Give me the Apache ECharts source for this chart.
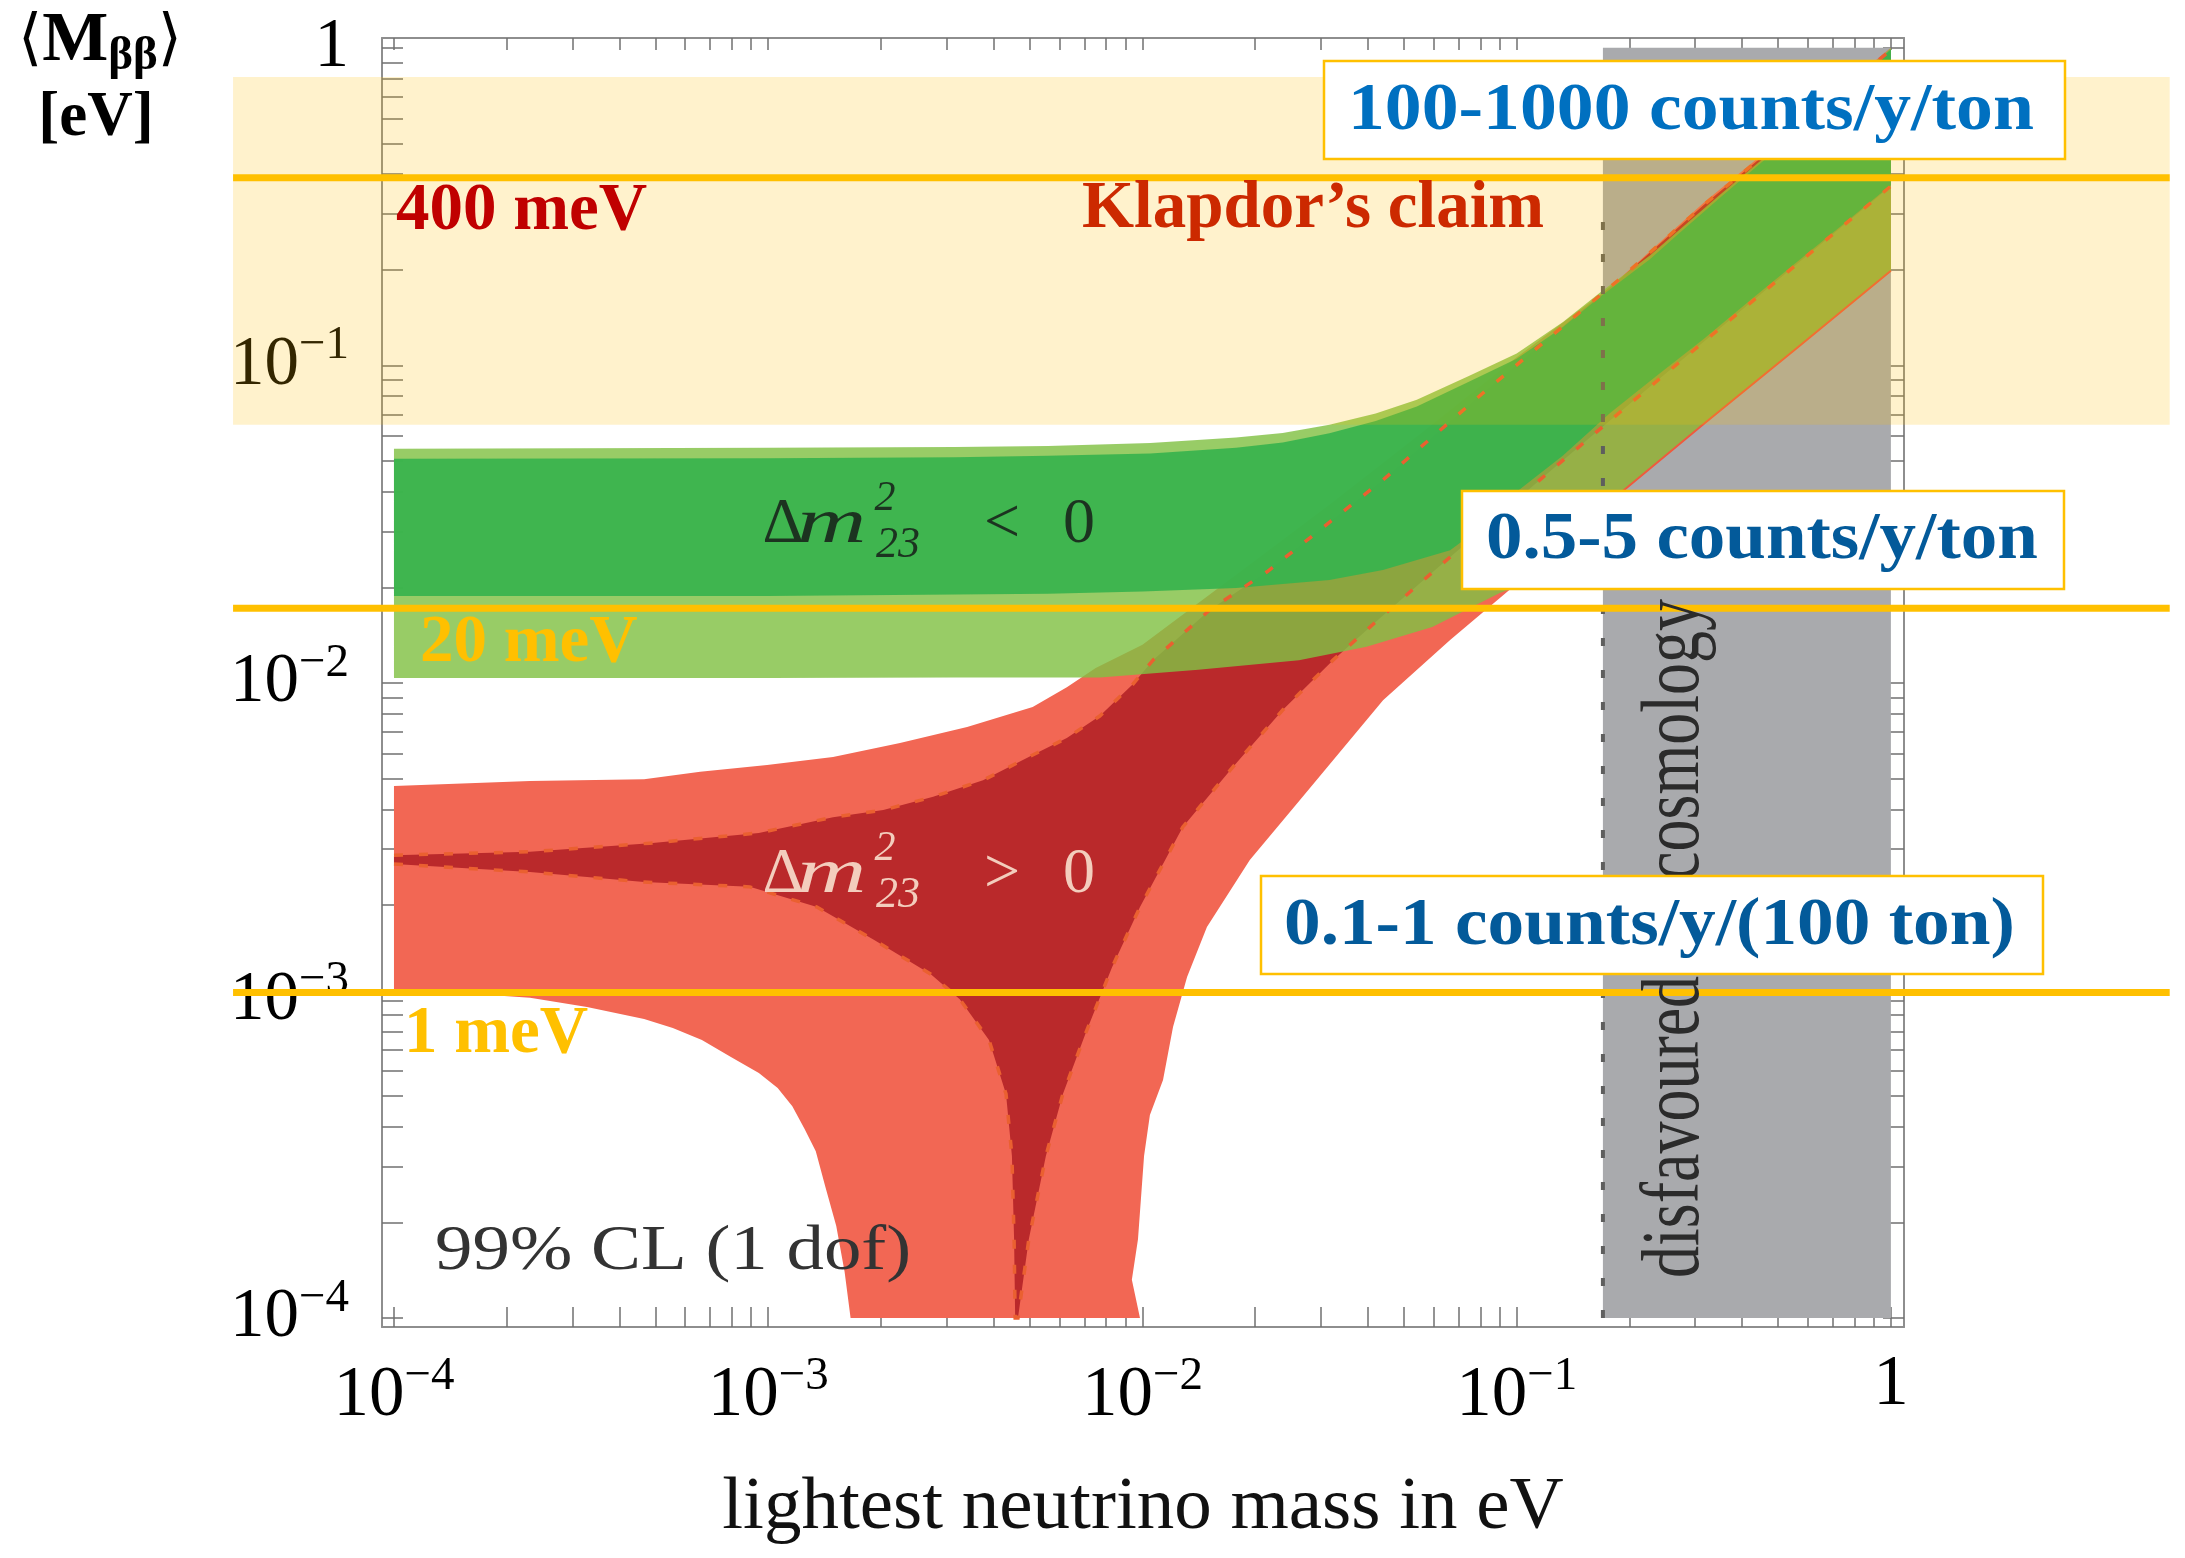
<!DOCTYPE html>
<html>
<head>
<meta charset="utf-8">
<title>Effective Majorana mass vs lightest neutrino mass</title>
<script src="https://cdn.jsdelivr.net/npm/echarts@6/dist/echarts.min.js"></script>
<style>
  html, body { margin: 0; padding: 0; background: #fff; }
  #chart { width: 2185px; height: 1558px; }
</style>
</head>
<body>
<div id="chart"></div>
<script>
// all values in eV: [lightest neutrino mass, <M_bb>], left to right

// inverted hierarchy (dm23^2 < 0)
const ihOuterUpper = [[1e-4, 0.0546], [1e-3, 0.0550], [3.16e-3, 0.0553], [5.6e-3, 0.0557], [0.0105, 0.0570],
  [0.0178, 0.0593], [0.0237, 0.0613], [0.0316, 0.0650], [0.042, 0.0705], [0.0541, 0.0779], [0.075, 0.093],
  [0.1, 0.109], [0.133, 0.137], [0.1665, 0.169], [0.227, 0.222], [0.268, 0.263], [0.35, 0.345],
  [0.46, 0.452], [0.6, 0.59], [0.78, 0.77], [1, 1.0]];
const ihOuterLower = [[1e-4, 0.01037], [1e-3, 0.01037], [3.16e-3, 0.0104], [5.6e-3, 0.0104], [0.0077, 0.0104],
  [0.0141, 0.0110], [0.0262, 0.0118], [0.0397, 0.0130], [0.0595, 0.0150], [0.0901, 0.0192], [0.1, 0.0201],
  [0.133, 0.0275], [0.178, 0.0372], [0.24, 0.050], [0.316, 0.0654], [0.42, 0.086], [0.562, 0.1135],
  [0.75, 0.150], [1, 0.1985]];
const ihInnerUpper = [[1e-4, 0.0508], [1e-3, 0.0510], [3.16e-3, 0.0514], [5.6e-3, 0.0519], [0.0105, 0.0528],
  [0.0178, 0.0550], [0.0237, 0.0572], [0.0316, 0.0612], [0.042, 0.0668], [0.0541, 0.0742], [0.075, 0.0892],
  [0.1, 0.105], [0.133, 0.132], [0.1665, 0.164], [0.227, 0.216], [0.268, 0.257], [0.35, 0.338],
  [0.46, 0.444], [0.6, 0.58], [0.78, 0.76], [1, 0.99]];
const ihInnerLower = [[1e-4, 0.0188], [1e-3, 0.0188], [3.16e-3, 0.0190], [5.6e-3, 0.0191], [1e-2, 0.0194],
  [1.78e-2, 0.0199], [3.16e-2, 0.0211], [0.0439, 0.0227], [0.0664, 0.0262], [0.085, 0.0325], [0.1, 0.0400],
  [0.133, 0.052], [0.178, 0.071], [0.24, 0.094], [0.316, 0.121], [0.42, 0.160], [0.562, 0.212],
  [0.75, 0.280], [1, 0.37]];

// normal hierarchy (dm23^2 > 0)
const nhOuterUpper = [[1e-4, 0.00474], [2.31e-4, 0.00491], [4.66e-4, 0.00498], [6.58e-4, 0.00525],
  [9.93e-4, 0.00552], [1.49e-3, 0.00585], [2.25e-3, 0.00647], [3.4e-3, 0.00727], [5.09e-3, 0.0084],
  [6.28e-3, 0.0097], [7.5e-3, 0.01115], [1e-2, 0.0132], [1.78e-2, 0.0219], [3.16e-2, 0.0364],
  [5.62e-2, 0.0618], [0.1, 0.106], [0.178, 0.1767], [0.316, 0.325], [0.562, 0.568], [1, 1.0]];
const nhOuterLower = [[1e-4, 0.00108], [1.61e-4, 0.00105], [2.31e-4, 0.00102], [3.28e-4, 0.000955],
  [4.66e-4, 0.000875], [5.56e-4, 0.000819], [6.65e-4, 0.000751], [7.95e-4, 0.000664], [9.44e-4, 0.000591],
  [1.06e-3, 0.00053], [1.16e-3, 0.000465], [1.25e-3, 0.000395], [1.34e-3, 0.000335], [1.42e-3, 0.00026],
  [1.52e-3, 0.000195], [1.60e-3, 0.000140], [1.66e-3, 0.0001], [9.85e-3, 0.0001], [9.37e-3, 0.000132],
  [9.73e-3, 0.000177], [1.01e-2, 0.000324], [1.047e-2, 0.000436], [1.135e-2, 0.000562], [1.207e-2, 0.000826],
  [1.316e-2, 0.001186], [1.487e-2, 0.001703], [1.936e-2, 0.002773], [2.636e-2, 0.004279], [4.395e-2, 0.00883],
  [6.64e-2, 0.01366], [9.77e-2, 0.02006], [0.1775, 0.0372], [0.316, 0.0654], [0.561, 0.1135], [1, 0.1985]];
const nhInnerUpper = [[1e-4, 0.00287], [2.31e-4, 0.00294], [4.83e-4, 0.00313], [9.44e-4, 0.00337],
  [1.49e-3, 0.00378], [2.03e-3, 0.00398], [2.76e-3, 0.00438], [3.75e-3, 0.00494], [5.09e-3, 0.00593],
  [6.28e-3, 0.00671], [7.69e-3, 0.00787], [9.44e-3, 0.00993], [1.067e-2, 0.0118], [1.515e-2, 0.017],
  [2.153e-2, 0.0224], [4.395e-2, 0.0436], [8.13e-2, 0.0819], [0.197, 0.1955], [0.316, 0.32], [0.562, 0.56],
  [1, 0.985]];
const nhInnerLower = [[1e-4, 0.00269], [2.31e-4, 0.00254], [4.66e-4, 0.00236], [8.93e-4, 0.00228],
  [1.35e-3, 0.00197], [1.92e-3, 0.00155], [2.72e-3, 0.00121], [3.25e-3, 0.00101], [3.89e-3, 0.000751],
  [4.32e-3, 0.000508], [4.48e-3, 0.000324], [4.54e-3, 0.000177], [4.57e-3, 0.0001], [4.65e-3, 0.0001],
  [4.97e-3, 0.000177], [5.52e-3, 0.000324], [6.13e-3, 0.000508], [7.07e-3, 0.000796], [8.3e-3, 0.001275],
  [9.85e-3, 0.00197], [1.282e-2, 0.00352], [1.745e-2, 0.00544], [2.37e-2, 0.00822], [3.23e-2, 0.0118],
  [4.31e-2, 0.016], [5.98e-2, 0.0224], [0.1153, 0.0436], [0.227, 0.0856], [0.447, 0.1668], [1, 0.367]];

// masses disfavoured by cosmology, and where its dashed edge stops
const cosmoRange = [0.17, 1];
const cosmoDashTop = 0.32;
const plotRange = [1e-4, 1];

// Klapdor's claim band and the three sensitivity levels (400, 20, 1 meV)
const klapdorBand = [0.065, 0.81];
const claimLevels = [0.39, 0.0172, 0.00106];

// axis ticks, as powers of ten
const labelExps = [-4, -3, -2, -1, 0];
const tickDecades = [-4, -3, -2, -1];
const tickMantissas = [1, 2, 3, 4, 5, 6, 7, 8, 9];
const minorTicks = [];
tickDecades.forEach(function (d) {
  tickMantissas.forEach(function (k) { minorTicks.push(d + Math.log10(k)); });
});
minorTicks.push(0);

const SERIF = "'Liberation Serif', 'Times New Roman', serif";
const X_MIN = -4.032, X_MAX = 0.035, Y_MIN = -4.028, Y_MAX = 0.031;
const OVER_L = -4.43, OVER_R = 0.745; // the overlays run past the frame

function toLog(pts) {
  return pts.map(function (p) { return [Math.log10(p[0]), Math.log10(p[1])]; });
}
function ring(upper, lower) {
  return toLog(upper.concat(lower.slice().reverse()));
}

function polygonSeries(name, data, fill, z) {
  return {
    type: 'custom', name: name, z: z, silent: true, clip: false, data: data,
    renderItem: function (params, api) {
      if (params.context.rendered) return;
      params.context.rendered = true;
      return {
        type: 'polygon',
        shape: { points: data.map(function (d) { return api.coord(d); }) },
        style: { fill: fill }
      };
    }
  };
}
function lineSeries(name, data, stroke, width, dash, z) {
  return {
    type: 'custom', name: name, z: z, silent: true, clip: false, data: data,
    renderItem: function (params, api) {
      if (params.context.rendered) return;
      params.context.rendered = true;
      return {
        type: 'polyline',
        shape: { points: data.map(function (d) { return api.coord(d); }) },
        style: { stroke: stroke, lineWidth: width, lineDash: dash, fill: 'none' }
      };
    }
  };
}

const series = [
  // grey column
  {
    type: 'custom', name: 'cosmology', z: 1, silent: true, clip: false,
    data: [[Math.log10(cosmoRange[0]), Math.log10(plotRange[0]), Math.log10(cosmoRange[1]), Math.log10(plotRange[1])]],
    renderItem: function (params, api) {
      const a = api.coord([api.value(0), api.value(3)]);
      const b = api.coord([api.value(2), api.value(1)]);
      return { type: 'rect', shape: { x: a[0], y: a[1], width: b[0] - a[0], height: b[1] - a[1] },
        style: { fill: '#a9aaad' } };
    }
  },
  polygonSeries('NH outer', ring(nhOuterUpper, nhOuterLower), '#f26754', 2),
  polygonSeries('NH inner', ring(nhInnerUpper, nhInnerLower), '#ba292b', 3),
  polygonSeries('IH outer', ring(ihOuterUpper, ihOuterLower), 'rgba(129,193,68,0.82)', 4),
  polygonSeries('IH inner', ring(ihInnerUpper, ihInnerLower), 'rgba(55,179,77,0.92)', 5),
  lineSeries('NH outer edge', toLog(nhOuterLower.slice(30)), '#ef5a3e', 2, null, 6),
  lineSeries('NH inner upper', toLog(nhInnerUpper), '#ea6030', 3.5, [9, 16], 6),
  lineSeries('NH inner lower', toLog(nhInnerLower), '#ea6030', 3.5, [9, 16], 6),
  lineSeries('cosmology edge', toLog([[cosmoRange[0], plotRange[0]], [cosmoRange[0], cosmoDashTop]]),
    '#5e5e5e', 4, [8, 24], 7),
  // Klapdor band
  {
    type: 'custom', name: 'Klapdor', z: 20, silent: true, clip: false,
    data: [[Math.log10(klapdorBand[0]), Math.log10(klapdorBand[1])]],
    renderItem: function (params, api) {
      const a = api.coord([OVER_L, api.value(1)]);
      const b = api.coord([OVER_R, api.value(0)]);
      return { type: 'rect', shape: { x: a[0], y: a[1], width: b[0] - a[0], height: b[1] - a[1] },
        style: { fill: 'rgba(255,190,0,0.2)' } };
    }
  },
  // sensitivity lines
  {
    type: 'custom', name: 'levels', z: 30, silent: true, clip: false,
    data: claimLevels.map(function (v) { return [Math.log10(v)]; }),
    encode: { y: 0 },
    renderItem: function (params, api) {
      const a = api.coord([OVER_L, api.value(0)]);
      const b = api.coord([OVER_R, api.value(0)]);
      return { type: 'line', shape: { x1: a[0], y1: a[1], x2: b[0], y2: b[1] },
        style: { stroke: '#ffc000', lineWidth: 7 } };
    }
  }
];

function expLabel(v) {
  return v === 0 ? '{one|1}' : '{b|10}{s|\u2212' + Math.abs(v) + '}';
}
function labelRich(size) {
  return {
    b: { fontFamily: SERIF, fontSize: size, lineHeight: 86, color: '#000' },
    s: { fontFamily: SERIF, fontSize: 47, lineHeight: 44, verticalAlign: 'top', color: '#000' },
    one: { fontFamily: SERIF, fontSize: size, lineHeight: 64, color: '#000' }
  };
}
const frameLine = { show: true, onZero: false, lineStyle: { color: '#8e8e8e', width: 2 } };
function ticks(len) {
  return { show: true, inside: true, length: len, customValues: minorTicks,
    lineStyle: { color: '#707070', width: 1.5 } };
}

function txt(x, y, text, size, fill, extra) {
  const el = {
    type: 'text', x: x, y: y, z: 100, silent: true,
    style: { text: text, fontFamily: SERIF, fontSize: size, fontWeight: 'bold', fill: fill,
      align: 'left', verticalAlign: 'middle' }
  };
  if (extra) {
    Object.keys(extra).forEach(function (k) {
      if (k === 'style') Object.assign(el.style, extra.style); else el[k] = extra[k];
    });
  }
  return el;
}
function box(x, y, w, h) {
  return { type: 'rect', z: 99, silent: true, shape: { x: x, y: y, width: w, height: h },
    style: { fill: '#fff', stroke: '#ffc000', lineWidth: 2.5 } };
}
function plain(x, y, text, size, fill, opts, extra) {
  return txt(x, y, text, size, fill,
    Object.assign({ style: Object.assign({ fontWeight: 'normal', align: 'center' }, opts || {}) }, extra || {}));
}

function deltaLabel(baseY, rel, color) {
  return [
    plain(783, baseY, '\u0394', 64, color),
    plain(797, baseY, 'm', 64, color, { fontStyle: 'italic', align: 'left' }, { scaleX: 1.5 }),
    plain(885, baseY - 26, '2', 42, color, { fontStyle: 'italic' }),
    plain(898, baseY + 20, '23', 44, color, { fontStyle: 'italic' }),
    plain(1002, baseY, rel, 64, color),
    plain(1079, baseY, '0', 64, color)
  ];
}

const graphic = [
  txt(18, 42, '{p|\u27e8}{m|M}{s|\u03b2\u03b2}{p|\u27e9}', 68, '#000', {
    style: { rich: {
      p: { fontFamily: "'DejaVu Serif', 'DejaVu Sans', serif", fontSize: 62, lineHeight: 76, fill: '#000' },
      m: { fontFamily: SERIF, fontWeight: 'bold', fontSize: 70, lineHeight: 76, fill: '#000' },
      s: { fontFamily: SERIF, fontWeight: 'bold', fontSize: 47, lineHeight: 40, verticalAlign: 'bottom', fill: '#000' }
    } }
  }),
  txt(96, 119, '[eV]', 63, '#000', { style: { align: 'center' } }),

  txt(396, 212, '400 meV', 67, '#c00000'),
  txt(1082, 210, 'Klapdor\u2019s claim', 67, '#cc2900'),
  txt(420, 644, '20 meV', 67, '#ffc000'),
  txt(404, 1035, '1 meV', 67, '#ffc000'),

  box(1324, 61, 741, 98),
  txt(1348, 112, '100-1000 counts/y/ton', 67, '#0070c0', { scaleX: 1.1 }),
  box(1462, 491, 602, 98),
  txt(1486, 541, '0.5-5 counts/y/ton', 67, '#035a9a', { scaleX: 1.09 }),
  box(1261, 876, 782, 98),
  txt(1284, 927, '0.1-1 counts/y/(100 ton)', 67, '#035a9a', { scaleX: 1.094 }),

  txt(435, 1252, '99% CL (1 dof)', 64, '#333', { z: 60, scaleX: 1.17, style: { fontWeight: 'normal' } }),
  txt(1676, 1278, 'disfavoured by cosmology', 64, '#2b2b2b',
    { z: 60, rotation: Math.PI / 2, scaleY: 1.3, style: { fontWeight: 'normal' } })
].concat(deltaLabel(525, '<', '#1c3320'), deltaLabel(875, '>', '#f3cdbd'));

const chart = echarts.init(document.getElementById('chart'));
chart.setOption({
  backgroundColor: '#fff',
  animation: false,
  grid: { left: 382, right: 281, top: 38, bottom: 231, containLabel: false },
  xAxis: [
    {
      type: 'value', position: 'bottom', min: X_MIN, max: X_MAX,
      axisLine: frameLine, axisTick: ticks(20), splitLine: { show: false },
      axisLabel: { customValues: labelExps, formatter: expLabel, margin: 26, rich: labelRich(71) },
      name: 'lightest neutrino mass in eV', nameLocation: 'middle', nameGap: 144,
      nameTextStyle: { fontFamily: SERIF, fontSize: 75, color: '#111' }
    },
    {
      type: 'value', position: 'top', min: X_MIN, max: X_MAX,
      axisLine: frameLine, axisTick: ticks(12), splitLine: { show: false }, axisLabel: { show: false }
    }
  ],
  yAxis: [
    {
      type: 'value', position: 'left', min: Y_MIN, max: Y_MAX,
      axisLine: frameLine, axisTick: ticks(21), splitLine: { show: false },
      axisLabel: { customValues: labelExps, formatter: expLabel, margin: 33, rich: labelRich(69) }
    },
    {
      type: 'value', position: 'right', min: Y_MIN, max: Y_MAX,
      axisLine: frameLine, axisTick: ticks(21), splitLine: { show: false }, axisLabel: { show: false }
    }
  ],
  series: series,
  graphic: graphic
});
</script>
</body>
</html>
